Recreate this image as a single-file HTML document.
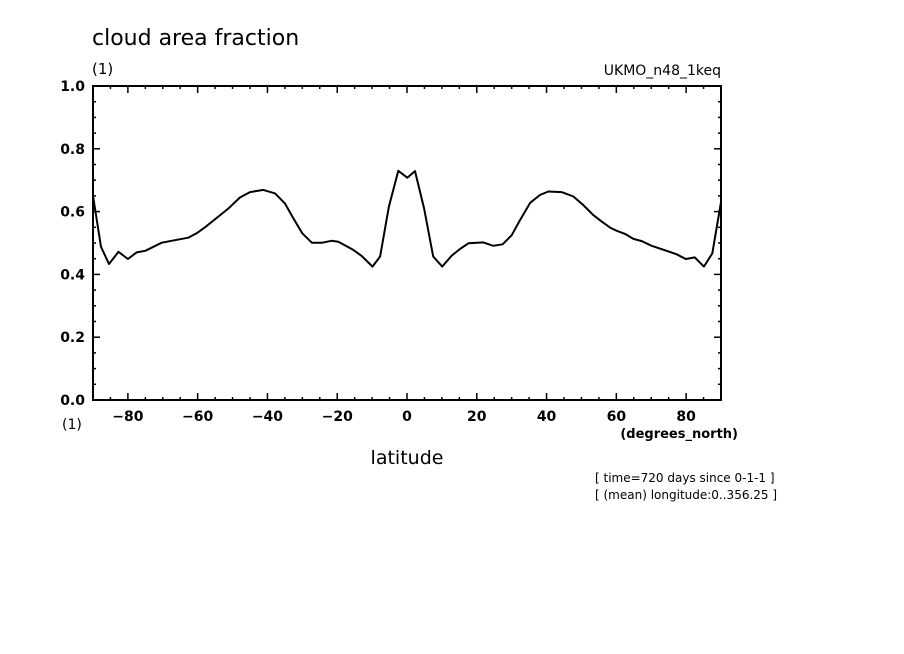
<!DOCTYPE html>
<html><head><meta charset="utf-8">
<style>
html,body{margin:0;padding:0;background:#fff;}
svg{display:block;font-family:"DejaVu Sans","Liberation Sans",sans-serif;}
</style></head>
<body>
<svg id="chart" width="904" height="654" viewBox="0 0 904 654" xmlns="http://www.w3.org/2000/svg">
<rect x="0" y="0" width="904" height="654" fill="#fff"/>
<text x="92" y="45" font-size="22" fill="#000">cloud area fraction</text>
<text x="92" y="74" font-size="15" fill="#000">(1)</text>
<text x="721" y="75" font-size="14" fill="#000" text-anchor="end">UKMO_n48_1keq</text>
<text x="62" y="429" font-size="14" fill="#000">(1)</text>
<text x="738" y="438" font-size="13" font-weight="bold" fill="#000" text-anchor="end">(degrees_north)</text>
<text x="407" y="464" font-size="19" fill="#000" text-anchor="middle">latitude</text>
<text x="595" y="482" font-size="12" fill="#000">[ time=720 days since 0-1-1 ]</text>
<text x="595" y="499" font-size="12" fill="#000">[ (mean) longitude:0..356.25 ]</text>
<g id="axes"></g>
<g id="series"></g>
</svg>
<script>
const latitudes=[-90,-87.7,-85.4,-82.7,-80,-77.5,-75,-70.3,-62.7,-60.3,-57.9,-54.1,-51.2,-47.9,-45,-41.2,-37.8,-35,-32.6,-30,-27.3,-24.3,-21.6,-19.7,-15.4,-13,-9.9,-7.7,-5.2,-2.5,0.1,2.3,4.9,7.5,10.1,12.8,15.2,17.6,21.9,24.7,27.4,30,32.4,35.3,38.1,40.5,44.3,47.7,50.5,53.4,55.8,58.2,60.1,62.5,64.9,67.3,70.1,74.4,77.3,79.9,82.5,85.1,87.5,90];
const cloudFraction=[0.65,0.488,0.433,0.472,0.449,0.47,0.475,0.501,0.517,0.531,0.55,0.584,0.61,0.645,0.662,0.669,0.658,0.626,0.579,0.531,0.501,0.501,0.507,0.504,0.478,0.459,0.425,0.457,0.616,0.73,0.708,0.729,0.61,0.457,0.425,0.46,0.481,0.499,0.502,0.491,0.496,0.525,0.573,0.628,0.653,0.664,0.662,0.648,0.621,0.589,0.568,0.549,0.539,0.529,0.513,0.506,0.491,0.475,0.464,0.449,0.454,0.425,0.467,0.63];
const xTickLabels=[-80,-60,-40,-20,0,20,40,60,80];
const yTickLabels=[0.0,0.2,0.4,0.6,0.8,1.0];
const NS="http://www.w3.org/2000/svg";
const L=93,R=721,T=86,B=400;
const X=v=>L+(v+90)/180*(R-L);
const Y=v=>B-v*(B-T);
const axes=document.getElementById('axes');
const series=document.getElementById('series');
function mk(tag,attrs,parent){const e=document.createElementNS(NS,tag);for(const k in attrs)e.setAttribute(k,attrs[k]);parent.appendChild(e);return e;}
const frame=mk('rect',{x:L,y:T,width:R-L,height:B-T,fill:'none',stroke:'#000','stroke-width':2},axes);


for(let v=-90;v<=90;v+=5){
  const major=(v%20===0&&v!==-90&&v!==90)||false;
  const len=major?7:3;
  const x=X(v);
  const t1=mk('line',{x1:x,y1:B,x2:x,y2:B-len,stroke:'#000','stroke-width':1.5},axes);
  
  
  const t2=mk('line',{x1:x,y1:T,x2:x,y2:T+len,stroke:'#000','stroke-width':1.5},axes);
  
  
}
xTickLabels.forEach(v=>{
  const t=mk('text',{x:X(v),y:421,'font-size':14,'font-weight':'bold','text-anchor':'middle',fill:'#000'},axes);
  t.textContent=(v<0?'\u2212'+(-v):String(v));
  
  
});
for(let i=0;i<=20;i++){
  const v=i*0.05;const major=i%4===0;const len=major?7:3;const y=Y(v);
  const t1=mk('line',{x1:L,y1:y,x2:L+len,y2:y,stroke:'#000','stroke-width':1.5},axes);
  
  
  const t2=mk('line',{x1:R,y1:y,x2:R-len,y2:y,stroke:'#000','stroke-width':1.5},axes);
  
  
}
yTickLabels.forEach(v=>{
  const t=mk('text',{x:85,y:Y(v)+5,'font-size':14,'font-weight':'bold','text-anchor':'end',fill:'#000'},axes);
  t.textContent=v.toFixed(1);
  
  
});
const pts=latitudes.map((la,i)=>X(la).toFixed(1)+','+Y(cloudFraction[i]).toFixed(1)).join(' ');
const line=mk('polyline',{points:pts,fill:'none',stroke:'#000','stroke-width':2,'stroke-linejoin':'round'},series);


</script>
</body></html>
